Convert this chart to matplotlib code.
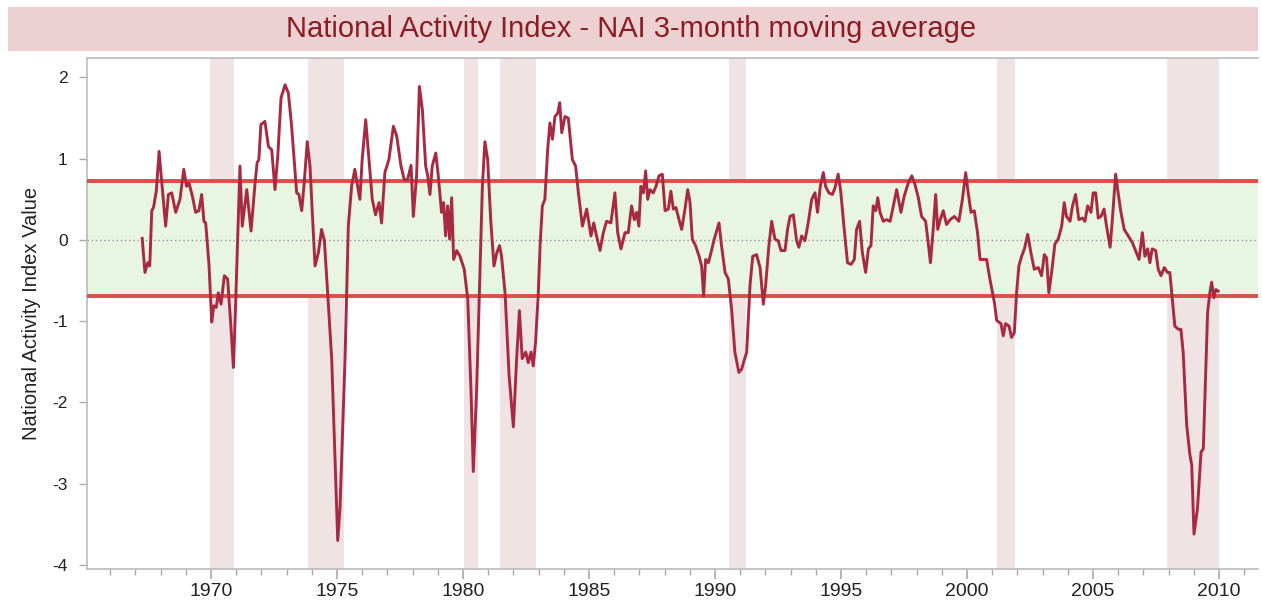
"""
National Activity Index - NAI 3-month moving average
"""

import matplotlib
matplotlib.use("Agg")
import matplotlib.pyplot as plt
from matplotlib.patches import Rectangle
from matplotlib.ticker import MultipleLocator

plt.rcParams["font.family"] = ["Liberation Sans", "DejaVu Sans"]
plt.rcParams["axes.unicode_minus"] = False

# NAI 3-month moving average (decimal year, value)
years = [
    1967.27, 1967.38, 1967.49, 1967.57, 1967.65, 1967.72, 1967.83, 1967.94, 1968.04, 1968.20,
    1968.31, 1968.44, 1968.60, 1968.77, 1968.92, 1969.03, 1969.13, 1969.26, 1969.39, 1969.52,
    1969.63, 1969.72, 1969.79, 1969.92, 1970.03, 1970.11, 1970.21, 1970.29, 1970.40, 1970.53,
    1970.66, 1970.79, 1970.89, 1970.95, 1971.06, 1971.15, 1971.24, 1971.42, 1971.59, 1971.75,
    1971.83, 1971.90, 1971.98, 1972.14, 1972.28, 1972.41, 1972.54, 1972.65, 1972.78, 1972.94,
    1973.07, 1973.20, 1973.40, 1973.49, 1973.60, 1973.70, 1973.82, 1973.93, 1974.02, 1974.13,
    1974.26, 1974.39, 1974.50, 1974.63, 1974.79, 1974.92, 1975.03, 1975.12, 1975.32, 1975.45,
    1975.58, 1975.71, 1975.82, 1975.91, 1976.00, 1976.14, 1976.27, 1976.40, 1976.53, 1976.67,
    1976.77, 1976.90, 1977.06, 1977.24, 1977.37, 1977.54, 1977.67, 1977.80, 1977.94, 1978.03,
    1978.16, 1978.27, 1978.39, 1978.52, 1978.60, 1978.69, 1978.78, 1978.92, 1979.02, 1979.15,
    1979.23, 1979.31, 1979.39, 1979.47, 1979.55, 1979.63, 1979.75, 1979.88, 1980.05, 1980.19,
    1980.32, 1980.41, 1980.54, 1980.67, 1980.77, 1980.87, 1980.98, 1981.10, 1981.23, 1981.34,
    1981.45, 1981.53, 1981.67, 1981.83, 1982.00, 1982.13, 1982.24, 1982.35, 1982.49, 1982.59,
    1982.70, 1982.79, 1982.88, 1982.99, 1983.06, 1983.15, 1983.25, 1983.36, 1983.45, 1983.55,
    1983.65, 1983.76, 1983.84, 1983.92, 1984.05, 1984.18, 1984.34, 1984.47, 1984.58, 1984.74,
    1984.91, 1985.08, 1985.19, 1985.30, 1985.44, 1985.57, 1985.70, 1985.87, 1986.03, 1986.14,
    1986.27, 1986.43, 1986.56, 1986.69, 1986.80, 1986.89, 1986.98, 1987.06, 1987.16, 1987.25,
    1987.33, 1987.42, 1987.55, 1987.66, 1987.78, 1987.91, 1988.02, 1988.15, 1988.25, 1988.35,
    1988.45, 1988.54, 1988.68, 1988.81, 1988.92, 1989.01, 1989.10, 1989.23, 1989.37, 1989.47,
    1989.55, 1989.63, 1989.74, 1989.84, 1989.97, 1990.16, 1990.26, 1990.40, 1990.53, 1990.66,
    1990.79, 1990.95, 1991.06, 1991.16, 1991.26, 1991.39, 1991.50, 1991.65, 1991.79, 1991.92,
    1992.01, 1992.14, 1992.25, 1992.38, 1992.51, 1992.62, 1992.78, 1992.88, 1992.98, 1993.11,
    1993.24, 1993.33, 1993.44, 1993.57, 1993.70, 1993.84, 1993.97, 1994.07, 1994.18, 1994.30,
    1994.39, 1994.52, 1994.66, 1994.76, 1994.89, 1994.99, 1995.13, 1995.26, 1995.40, 1995.53,
    1995.62, 1995.74, 1995.85, 1995.98, 1996.09, 1996.19, 1996.28, 1996.38, 1996.46, 1996.55,
    1996.68, 1996.81, 1996.95, 1997.08, 1997.21, 1997.38, 1997.51, 1997.67, 1997.81, 1997.94,
    1998.07, 1998.20, 1998.36, 1998.49, 1998.55, 1998.65, 1998.76, 1998.84, 1998.94, 1999.06,
    1999.19, 1999.33, 1999.50, 1999.68, 1999.82, 1999.95, 2000.05, 2000.16, 2000.29, 2000.42,
    2000.52, 2000.65, 2000.78, 2000.91, 2001.09, 2001.18, 2001.35, 2001.44, 2001.53, 2001.67,
    2001.77, 2001.88, 2001.97, 2002.06, 2002.17, 2002.28, 2002.41, 2002.54, 2002.67, 2002.83,
    2002.96, 2003.07, 2003.16, 2003.25, 2003.36, 2003.49, 2003.62, 2003.76, 2003.86, 2003.95,
    2004.09, 2004.19, 2004.31, 2004.44, 2004.58, 2004.68, 2004.79, 2004.92, 2005.01, 2005.11,
    2005.21, 2005.32, 2005.44, 2005.54, 2005.68, 2005.77, 2005.90, 2006.00, 2006.11, 2006.24,
    2006.40, 2006.56, 2006.69, 2006.83, 2006.96, 2007.06, 2007.17, 2007.26, 2007.35, 2007.49,
    2007.59, 2007.70, 2007.83, 2007.96, 2008.05, 2008.15, 2008.25, 2008.39, 2008.49, 2008.58,
    2008.72, 2008.85, 2008.92, 2009.01, 2009.15, 2009.29, 2009.38, 2009.47, 2009.55, 2009.64,
    2009.71, 2009.80, 2009.88, 2009.97,
]
nai = [
    0.02, -0.40, -0.28, -0.32, 0.36, 0.40, 0.60, 1.09, 0.74, 0.17,
    0.56, 0.58, 0.34, 0.50, 0.87, 0.66, 0.70, 0.54, 0.34, 0.36,
    0.56, 0.23, 0.21, -0.30, -1.01, -0.81, -0.83, -0.65, -0.79, -0.44,
    -0.48, -1.06, -1.57, -1.06, 0.01, 0.91, 0.17, 0.62, 0.11, 0.70,
    0.95, 0.99, 1.42, 1.46, 1.15, 1.11, 0.62, 1.03, 1.75, 1.91,
    1.81, 1.40, 0.58, 0.56, 0.36, 0.70, 1.21, 0.91, 0.34, -0.32,
    -0.16, 0.13, -0.01, -0.65, -1.46, -2.69, -3.70, -3.30, -1.46, 0.17,
    0.66, 0.87, 0.66, 0.50, 0.99, 1.48, 0.99, 0.50, 0.31, 0.46,
    0.21, 0.83, 0.99, 1.40, 1.28, 0.91, 0.74, 0.74, 0.92, 0.29,
    0.79, 1.89, 1.60, 0.91, 0.79, 0.56, 0.91, 1.07, 0.79, 0.34,
    0.46, 0.05, 0.42, 0.01, 0.52, -0.24, -0.13, -0.20, -0.36, -0.73,
    -1.87, -2.85, -1.87, -0.44, 0.66, 1.21, 0.99, 0.25, -0.32, -0.16,
    -0.07, -0.20, -0.65, -1.67, -2.30, -1.46, -0.87, -1.46, -1.38, -1.51,
    -1.38, -1.55, -1.26, -0.65, -0.07, 0.42, 0.50, 1.11, 1.44, 1.24,
    1.52, 1.56, 1.69, 1.32, 1.52, 1.50, 0.99, 0.91, 0.58, 0.17,
    0.38, 0.05, 0.21, 0.05, -0.13, 0.09, 0.23, 0.21, 0.58, 0.09,
    -0.11, 0.09, 0.09, 0.42, 0.25, 0.34, 0.17, 0.66, 0.58, 0.85,
    0.50, 0.62, 0.58, 0.66, 0.79, 0.81, 0.36, 0.38, 0.60, 0.38,
    0.40, 0.29, 0.13, 0.38, 0.62, 0.46, 0.01, -0.07, -0.20, -0.32,
    -0.69, -0.24, -0.28, -0.16, 0.01, 0.21, -0.07, -0.40, -0.48, -0.85,
    -1.38, -1.63, -1.59, -1.48, -1.38, -0.56, -0.20, -0.18, -0.34, -0.79,
    -0.56, -0.07, 0.23, 0.01, -0.01, -0.13, -0.13, 0.13, 0.29, 0.31,
    -0.01, -0.09, 0.05, -0.01, 0.21, 0.50, 0.58, 0.34, 0.66, 0.83,
    0.66, 0.58, 0.56, 0.64, 0.81, 0.60, 0.13, -0.28, -0.30, -0.24,
    0.13, 0.23, -0.16, -0.40, -0.11, -0.07, 0.42, 0.36, 0.52, 0.34,
    0.23, 0.25, 0.23, 0.42, 0.62, 0.34, 0.54, 0.70, 0.79, 0.68,
    0.52, 0.29, 0.23, -0.11, -0.28, 0.09, 0.56, 0.13, 0.25, 0.36,
    0.19, 0.25, 0.29, 0.23, 0.50, 0.83, 0.58, 0.34, 0.36, 0.09,
    -0.24, -0.24, -0.24, -0.48, -0.77, -0.99, -1.03, -1.18, -1.03, -1.06,
    -1.20, -1.14, -0.65, -0.32, -0.20, -0.11, 0.07, -0.16, -0.36, -0.34,
    -0.44, -0.18, -0.22, -0.65, -0.40, -0.05, 0.01, 0.17, 0.46, 0.29,
    0.23, 0.42, 0.56, 0.25, 0.27, 0.23, 0.42, 0.34, 0.58, 0.58,
    0.27, 0.29, 0.38, 0.17, -0.09, 0.25, 0.81, 0.58, 0.34, 0.13,
    0.05, -0.03, -0.13, -0.24, 0.09, -0.20, -0.11, -0.28, -0.11, -0.13,
    -0.36, -0.44, -0.34, -0.40, -0.40, -0.73, -1.06, -1.10, -1.10, -1.38,
    -2.28, -2.65, -2.77, -3.62, -3.30, -2.61, -2.57, -1.67, -0.89, -0.65,
    -0.52, -0.71, -0.61, -0.63,
]

# NBER recessions as shaded on the chart (start, end)
recessions = [
    (1969.96, 1970.91), (1973.85, 1975.28), (1980.04, 1980.60),
    (1981.47, 1982.90), (1990.55, 1991.25), (2001.18, 2001.90),
    (2007.95, 2010.00),
]
band_high = 0.72
band_low = -0.69

fig = plt.figure(figsize=(12.62, 6.10), dpi=100)

# title bar
fig.patches.append(Rectangle((8 / 1262, 1 - 51 / 610), 1250 / 1262, 44 / 610,
                             transform=fig.transFigure, facecolor="#ecd0d2",
                             edgecolor="none", zorder=0))
fig.text(0.5, 1 - 29 / 610, "National Activity Index - NAI 3-month moving average",
         ha="center", va="center", fontsize=21, color="#8b1c24")

ax = fig.add_axes([87 / 1262, 1 - 569 / 610, 1171 / 1262, 511 / 610])

for start, end in recessions:
    ax.axvspan(start, end, color="#f0e3e4", lw=0, zorder=0)
ax.axhspan(band_low, band_high, color="#e8f5e0", lw=0, zorder=1)
ax.axhline(0, color="#999999", lw=1, ls=(0, (1, 2)), zorder=2)
ax.axhline(band_high, color="#db4f4b", lw=2.8, zorder=3)
ax.axhline(band_low, color="#db4f4b", lw=2.8, zorder=3)
ax.plot(years, nai, color="#a82a42", lw=2.1, zorder=4)

ax.set_xlim(1965.08, 2011.55)
ax.set_ylim(-4.05, 2.24)
ax.xaxis.set_major_locator(MultipleLocator(5))
ax.xaxis.set_minor_locator(MultipleLocator(1))
ax.yaxis.set_major_locator(MultipleLocator(1))
ax.tick_params(axis="both", which="both", direction="out", color="#aaaaaa",
               labelcolor="#222222")
ax.tick_params(axis="x", which="major", length=7, width=1.2, labelsize=14, pad=3)
ax.tick_params(axis="x", which="minor", length=4, width=1)
ax.tick_params(axis="y", which="major", length=6, width=1, pad=8, labelsize=12.5)
ax.set_ylabel("National Activity Index Value", fontsize=14.5, color="#222222", labelpad=8)

for side in ["left", "bottom", "top", "right"]:
    ax.spines[side].set_color("#bbbbbb")
    ax.spines[side].set_linewidth(1.2)
ax.spines["right"].set_visible(False)

fig.savefig("out.png", dpi=100)
